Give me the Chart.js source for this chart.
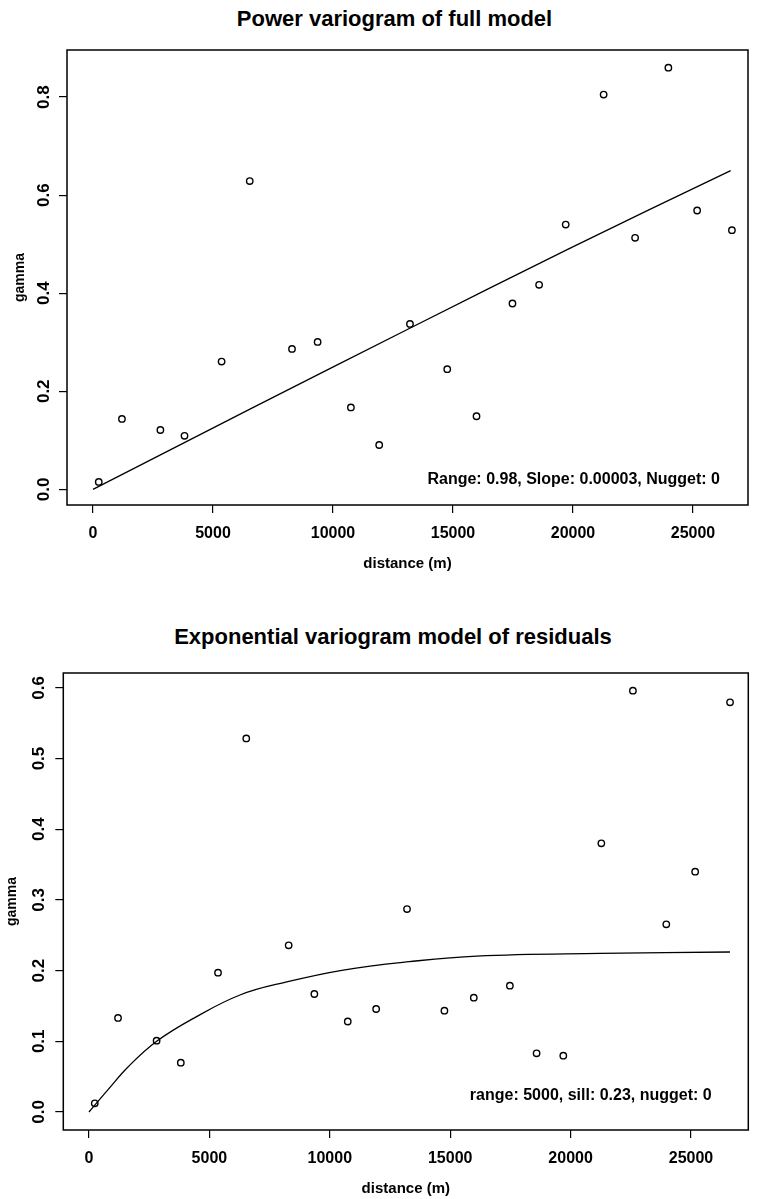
<!DOCTYPE html>
<html><head><meta charset="utf-8">
<script src="https://cdn.jsdelivr.net/npm/chart.js@4/dist/chart.umd.min.js"></script>
<style>
html,body{margin:0;padding:0;background:#fff;}
body{width:757px;height:1199px;position:relative;overflow:hidden;font-family:"Liberation Sans",Arial,sans-serif;}
.title{position:absolute;left:0;font-weight:bold;font-size:22px;line-height:26px;text-align:center;color:#000;white-space:nowrap;}
#t1{top:6px;width:789px;}
#t2{top:624px;width:786px;}
canvas{position:absolute;left:0;}
#c1{top:0;}
#c2{top:600px;}
</style></head><body>
<div class="title" id="t1">Power variogram of full model</div>
<div class="title" id="t2">Exponential variogram model of residuals</div>
<canvas id="c1" width="757" height="600"></canvas>
<canvas id="c2" width="757" height="600"></canvas>
<script>
// ---- data ----
const distance = [240, 1206, 2808, 3813, 5358, 6531, 8292, 9359, 10746, 11925, 13207, 14760, 15980, 17478, 18588, 19697, 21277, 22588, 23974, 25173, 26622];
const gammaFull = [0.015, 0.1435, 0.121, 0.109, 0.2605, 0.6286, 0.2863, 0.3006, 0.167, 0.0904, 0.3373, 0.245, 0.149, 0.379, 0.417, 0.540, 0.805, 0.513, 0.860, 0.5686, 0.5286];
const gammaResid = [0.0123, 0.133, 0.1009, 0.0698, 0.197, 0.5285, 0.2357, 0.1669, 0.128, 0.1457, 0.287, 0.1433, 0.1617, 0.1787, 0.083, 0.0797, 0.380, 0.596, 0.2655, 0.340, 0.5795];
const powerLineDist = [0, 6600, 13180, 19800, 26570];
const powerLineGamma = [0, 0.165, 0.328, 0.49, 0.650];
const expLineDist = [0, 800, 1630, 2810, 4340, 6270, 8210, 10560, 13300, 16100, 21220, 26620];
const expLineGamma = [0, 0.032, 0.064, 0.100, 0.1325, 0.1655, 0.184, 0.2008, 0.2126, 0.2206, 0.2244, 0.2263];
const xTickValues = [0, 5000, 10000, 15000, 20000, 25000];
const yTicksFull = [0, 0.2, 0.4, 0.6, 0.8];
const yTicksResid = [0, 0.1, 0.2, 0.3, 0.4, 0.5, 0.6];
const fitLabelFull = 'Range: 0.98, Slope: 0.00003, Nugget: 0';
const fitLabelResid = 'range: 5000, sill: 0.23, nugget: 0';
const xAxisTitle = 'distance (m)';
const yAxisTitle = 'gamma';

const FONT = '"Liberation Sans", Arial, sans-serif';
function pts(xs, ys) { return xs.map((x, i) => ({ x: x, y: ys[i] })); }

const boxPlugin = {
  id: 'box',
  afterDraw(chart) {
    const { ctx, chartArea: a } = chart;
    ctx.save();
    ctx.strokeStyle = '#000';
    ctx.lineWidth = 1.5;
    ctx.strokeRect(a.left, a.top, a.right - a.left, a.bottom - a.top);
    ctx.restore();
  }
};
const notePlugin = {
  id: 'note',
  afterDraw(chart, args, opts) {
    const { ctx, chartArea: a } = chart;
    ctx.save();
    ctx.font = 'bold 16px ' + FONT;
    ctx.fillStyle = '#000';
    ctx.textAlign = 'right';
    ctx.textBaseline = 'middle';
    ctx.fillText(opts.text, a.right - opts.dx, a.bottom - opts.dy);
    ctx.restore();
  }
};

function makeChart(id, c) {
  return new Chart(document.getElementById(id), {
    type: 'scatter',
    data: {
      datasets: [
        {
          data: pts(c.lineX, c.lineY),
          showLine: true,
          pointRadius: 0,
          borderColor: '#000',
          borderWidth: 1.3,
          tension: 0.4,
          order: 2
        },
        {
          data: pts(distance, c.pointsY),
          showLine: false,
          pointRadius: 3.2,
          pointBorderWidth: 1.4,
          pointBorderColor: '#000',
          pointBackgroundColor: 'rgba(0,0,0,0)',
          order: 1
        }
      ]
    },
    options: {
      responsive: false,
      animation: false,
      events: [],
      layout: { padding: { top: c.padTop, right: c.padRight, left: 0, bottom: 0 } },
      plugins: {
        legend: { display: false },
        tooltip: { enabled: false },
        title: { display: false },
        note: c.note
      },
      scales: {
        x: {
          type: 'linear',
          min: c.xmin, max: c.xmax,
          afterBuildTicks: s => { s.ticks = xTickValues.map(v => ({ value: v })); },
          afterFit: s => { s.height = c.xHeight; },
          grid: { drawOnChartArea: false, drawTicks: true, tickLength: 8, color: '#000', lineWidth: 1.2 },
          border: { display: false },
          ticks: {
            color: '#000', font: { family: FONT, size: 16, weight: 'bold' },
            padding: c.xTickPad, maxRotation: 0, minRotation: 0,
            callback: v => String(v)
          },
          title: {
            display: true, text: xAxisTitle, color: '#000',
            font: { family: FONT, size: 15, weight: 'bold' },
            padding: { top: 0, bottom: c.xTitlePad }
          }
        },
        y: {
          type: 'linear',
          min: c.ymin, max: c.ymax,
          afterBuildTicks: s => { s.ticks = c.yTicks.map(v => ({ value: v })); },
          afterFit: s => { s.width = c.yWidth; },
          grid: { drawOnChartArea: false, drawTicks: true, tickLength: 8, color: '#000', lineWidth: 1.2 },
          border: { display: false },
          ticks: {
            color: '#000', font: { family: FONT, size: 17, weight: 'bold' },
            padding: c.yTickPad, minRotation: 90, maxRotation: 90, crossAlign: 'center',
            callback: v => Number(v).toFixed(1)
          },
          title: {
            display: true, text: yAxisTitle, color: '#000',
            font: { family: FONT, size: 14, weight: 'bold' },
            padding: { top: c.yTitlePad, bottom: 0 }
          }
        }
      }
    },
    plugins: [boxPlugin, notePlugin]
  });
}

makeChart('c1', {
  pointsY: gammaFull, lineX: powerLineDist, lineY: powerLineGamma, yTicks: yTicksFull,
  xmin: -1083, xmax: 27292, ymin: -0.032, ymax: 0.896,
  padTop: 50, padRight: 9, yWidth: 67, xHeight: 95,
  yTickPad: 3, yTitlePad: 11.6, xTickPad: 11.4, xTitlePad: 27,
  note: { text: fitLabelFull, dx: 28, dy: 25 }
});
makeChart('c2', {
  pointsY: gammaResid, lineX: expLineDist, lineY: expLineGamma, yTicks: yTicksResid,
  xmin: -1067, xmax: 27380, ymin: -0.0255, ymax: 0.621,
  padTop: 73, padRight: 8.7, yWidth: 63.3, xHeight: 70,
  yTickPad: 4, yTitlePad: 3.6, xTickPad: 10.7, xTitlePad: 2,
  note: { text: fitLabelResid, dx: 36.6, dy: 34 }
});
</script>
</body></html>
